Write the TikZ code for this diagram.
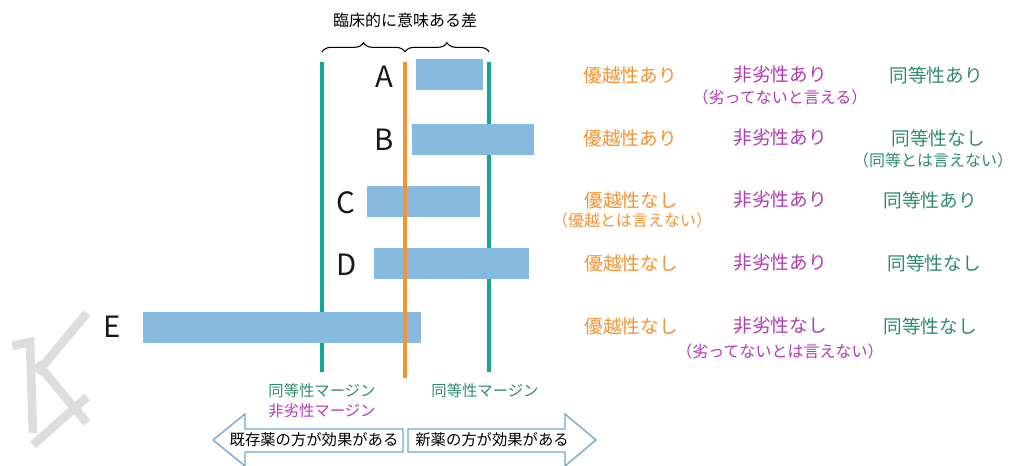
\documentclass[tikz,border=0pt]{standalone}
\usepackage{fontspec}
\setmainfont{Noto Sans CJK JP}
\usetikzlibrary{decorations.pathreplacing}
\definecolor{cOr}{HTML}{F7922F}
\definecolor{cPu}{HTML}{B23AB4}
\definecolor{cTe}{HTML}{2E8C6E}
\definecolor{cTl}{HTML}{13A596}
\definecolor{cBar}{HTML}{87BADF}
\definecolor{cArr}{HTML}{6FA6D8}
\definecolor{cWm}{HTML}{DDDDDD}
\tikzset{
  bar/.style={fill=cBar, draw=none, inner sep=0pt, minimum height=23.25pt},
  lbl/.style={font=\fontsize{22}{24}\selectfont, inner sep=0pt, text=black!90},
  res/.style={font=\fontsize{14}{16}\selectfont, inner sep=0pt},
  sub/.style={font=\fontsize{12}{14}\selectfont, inner sep=0pt},
  small/.style={font=\fontsize{11.5}{13}\selectfont, inner sep=0pt},
  vline/.style={line width=3pt},
  arr/.style={draw=cArr, line width=1pt, fill=white, line join=miter},
  wm/.style={draw=cWm, line width=6.5pt}
}
\begin{document}
\begin{tikzpicture}[x=0.75pt,y=-0.75pt]
\useasboundingbox (0,0) rectangle (1013,466);
% watermark
\draw[wm] (12,346) -- (30,342) -- (33,433);
\draw[wm] (87,313) -- (37,373);
\draw[wm] (37,363) -- (87,423);
\draw[wm] (33,445) -- (87,397);
% vertical lines
\coordinate (lt) at (322,62); \coordinate (lb) at (322,372);
\coordinate (ot) at (405,62); \coordinate (ob) at (405,378);
\coordinate (rt) at (489,62); \coordinate (rb) at (489,372);
\draw[vline, cTl] (lt) -- (lb);
\draw[vline, cTl] (rt) -- (rb);
% bars
\node[bar, minimum width=50.25pt] (barA) at (449.5,75) {};
\node[bar, minimum width=91.5pt] (barB) at (473,139.5) {};
\node[bar, minimum width=84.75pt] (barC) at (423.5,201.5) {};
\node[bar, minimum width=116.25pt] (barD) at (451.5,264) {};
\node[bar, minimum width=208.5pt] (barE) at (282,327.5) {};
\draw[vline, cOr] (ot) -- (ob);
% letters
\node[lbl] (lA) at (384,77) {A};
\node[lbl] (lB) at (384,140) {B};
\node[lbl] (lC) at (346,203) {C};
\node[lbl] (lD) at (347,265) {D};
\node[lbl] (lE) at (112,327) {E};
% braces
\coordinate (b1) at (322,52); \coordinate (b2) at (405,52); \coordinate (b3) at (489,52);
\draw[decorate, decoration={brace, amplitude=7pt}, line width=0.8pt] (b1) -- (b2);
\draw[decorate, decoration={brace, amplitude=7pt}, line width=0.8pt] (b2) -- (b3);
\node[sub] (top) at (405,20) {臨床的に意味ある差};
% results
\node[res, text=cOr] (rA1) at (630,75) {優越性あり};
\node[res, text=cPu] (rA2) at (780,75) {非劣性あり};
\node[res, text=cTe] (rA3) at (936,75) {同等性あり};
\node[sub, text=cPu] (sA) at (780,97) {（劣ってないと言える）};
\node[res, text=cOr] (rB1) at (630,138) {優越性あり};
\node[res, text=cPu] (rB2) at (780,138) {非劣性あり};
\node[res, text=cTe] (rB3) at (938,138) {同等性なし};
\node[sub, text=cTe] (sB) at (933,160) {（同等とは言えない）};
\node[res, text=cOr] (rC1) at (631,200) {優越性なし};
\node[res, text=cPu] (rC2) at (780,200) {非劣性あり};
\node[res, text=cTe] (rC3) at (930,200) {同等性あり};
\node[sub, text=cOr] (sC) at (632,220) {（優越とは言えない）};
\node[res, text=cOr] (rD1) at (631,263) {優越性なし};
\node[res, text=cPu] (rD2) at (780,263) {非劣性あり};
\node[res, text=cTe] (rD3) at (934,263) {同等性なし};
\node[res, text=cOr] (rE1) at (631,326) {優越性なし};
\node[res, text=cPu] (rE2) at (780,326) {非劣性なし};
\node[res, text=cTe] (rE3) at (930,326) {同等性なし};
\node[sub, text=cPu] (sE) at (780,351) {（劣ってないとは言えない）};
% margins
\node[small, text=cTe] (m1) at (322,391) {同等性マージン};
\node[small, text=cPu] (m2) at (322,411) {非劣性マージン};
\node[small, text=cTe] (m3) at (485,391) {同等性マージン};
% arrows
\draw[arr] (213,440) -- (245,414) -- (245,429) -- (403,429) -- (403,452) -- (245,452) -- (245,466) -- cycle;
\draw[arr] (408,429) -- (565,429) -- (565,414) -- (596,440) -- (565,466) -- (565,452) -- (408,452) -- cycle;
\node[small] (aL) at (314,440) {既存薬の方が効果がある};
\node[small] (aR) at (492,440) {新薬の方が効果がある};
\end{tikzpicture}
\end{document}
